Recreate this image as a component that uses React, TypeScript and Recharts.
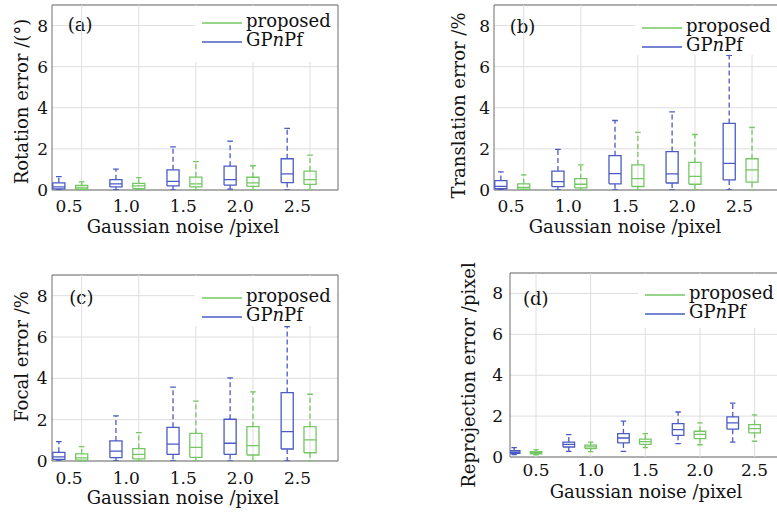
import React from 'react';
import { ComposedChart, Line, XAxis, YAxis, CartesianGrid, ReferenceArea, Legend } from 'recharts';

const noiseLevels = [0.5, 1.0, 1.5, 2.0, 2.5];
const noiseLabels = ['0.5', '1.0', '1.5', '2.0', '2.5'];
const yTicks = [0, 2, 4, 6, 8];
const methodNames = ['proposed', 'GPnPf'];

// one row per noise level: [min, q1, median, q3, max]
const rotationProposed = [
  [0, 0.03, 0.1, 0.22, 0.4],
  [0, 0.07, 0.2, 0.32, 0.6],
  [0, 0.15, 0.3, 0.63, 1.38],
  [0, 0.18, 0.35, 0.62, 1.18],
  [0, 0.27, 0.5, 0.92, 1.7],
];
const rotationGPnPf = [
  [0, 0.05, 0.15, 0.35, 0.65],
  [0.02, 0.15, 0.3, 0.5, 1.02],
  [0, 0.2, 0.42, 0.98, 2.1],
  [0.04, 0.24, 0.5, 1.16, 2.38],
  [0, 0.36, 0.78, 1.52, 3.0],
];
const translationProposed = [
  [0, 0.04, 0.13, 0.3, 0.74],
  [0, 0.1, 0.28, 0.55, 1.22],
  [0, 0.17, 0.55, 1.22, 2.8],
  [0, 0.28, 0.66, 1.34, 2.7],
  [0, 0.38, 0.98, 1.52, 3.04],
];
const translationGPnPf = [
  [0, 0.06, 0.18, 0.46, 0.88],
  [0, 0.16, 0.41, 0.92, 1.98],
  [0, 0.3, 0.8, 1.67, 3.38],
  [0, 0.34, 0.78, 1.87, 3.8],
  [0, 0.49, 1.3, 3.24, 6.55],
];
const focalProposed = [
  [0, 0.04, 0.15, 0.34, 0.7],
  [0, 0.1, 0.32, 0.6, 1.37],
  [0, 0.18, 0.66, 1.34, 2.9],
  [0, 0.29, 0.74, 1.66, 3.34],
  [0, 0.4, 1.02, 1.66, 3.23],
];
const focalGPnPf = [
  [0, 0.08, 0.2, 0.42, 0.94],
  [0, 0.16, 0.48, 0.97, 2.18],
  [0, 0.32, 0.82, 1.63, 3.57],
  [0, 0.32, 0.86, 2.02, 4.02],
  [0, 0.58, 1.42, 3.31, 6.5],
];
const reprojProposed = [
  [0.1, 0.16, 0.21, 0.26, 0.36],
  [0.26, 0.41, 0.5, 0.58, 0.73],
  [0.46, 0.62, 0.75, 0.87, 1.14],
  [0.6, 0.9, 1.11, 1.26, 1.67],
  [0.77, 1.18, 1.39, 1.58, 2.06],
];
const reprojGPnPf = [
  [0.12, 0.18, 0.24, 0.31, 0.46],
  [0.28, 0.49, 0.62, 0.73, 1.09],
  [0.28, 0.69, 0.93, 1.14, 1.75],
  [0.65, 1.06, 1.34, 1.63, 2.2],
  [0.73, 1.36, 1.67, 1.96, 2.64],
];

const FONT = '"DejaVu Serif", serif';
const INK = '#111';
const GRID = '#dedede';
const FRAME = '#6e6e6e';
const BLUE = '#4a5bc4';
const GREEN = '#74c763';
const methodColors = [GREEN, BLUE];
const Y_MAX = 9;
const PLOT_W = 286;
const BOX_HALF = 0.053;
const CAP_HALF = 0.025;

type Pt = { x: number; y: number | null };

// box outline, median and caps as one broken polyline
function boxPath(stats: number[][], shift: number): Pt[] {
  const pts: Pt[] = [];
  stats.forEach(([lo, q1, med, q3, hi], i) => {
    const c = noiseLevels[i] + shift;
    pts.push(
      { x: c - BOX_HALF, y: q1 }, { x: c + BOX_HALF, y: q1 }, { x: c + BOX_HALF, y: q3 },
      { x: c - BOX_HALF, y: q3 }, { x: c - BOX_HALF, y: q1 }, { x: c, y: null },
      { x: c - BOX_HALF, y: med }, { x: c + BOX_HALF, y: med }, { x: c, y: null },
      { x: c - CAP_HALF, y: hi }, { x: c + CAP_HALF, y: hi }, { x: c, y: null },
      { x: c - CAP_HALF, y: lo }, { x: c + CAP_HALF, y: lo }, { x: c, y: null },
    );
  });
  return pts;
}

function whiskerPath(stats: number[][], shift: number): Pt[] {
  const pts: Pt[] = [];
  stats.forEach(([lo, q1, , q3, hi], i) => {
    const c = noiseLevels[i] + shift;
    pts.push(
      { x: c, y: q3 }, { x: c, y: hi }, { x: c, y: null },
      { x: c, y: q1 }, { x: c, y: lo }, { x: c, y: null },
    );
  });
  return pts;
}

function gridPath(shift: number): Pt[] {
  return noiseLevels.flatMap((n) => [
    { x: n + shift, y: 0 }, { x: n + shift, y: Y_MAX }, { x: n + shift, y: null },
  ]);
}

const methodLabel = (name: string) =>
  name === 'GPnPf' ? (<>GP<i>n</i>Pf</>) : name;

function LegendBox({ padTop, padBottom, row }: { padTop: number; padBottom: number; row: number }) {
  return (
    <div style={{ background: '#fff', padding: `${padTop}px 6px ${padBottom}px 7px`, fontFamily: FONT, fontSize: 18, color: INK }}>
      {methodNames.map((name, i) => (
        <div key={name} style={{ position: 'relative', height: row, lineHeight: `${row}px`, paddingLeft: 44, whiteSpace: 'nowrap' }}>
          <svg width={40} height={4} style={{ position: 'absolute', left: 0, top: 10 }}>
            <line x1={0} x2={40} y1={2} y2={2} stroke={methodColors[i]} strokeWidth={1.5} />
          </svg>
          {methodLabel(name)}
        </div>
      ))}
    </div>
  );
}

type PanelProps = {
  left: number; top: number; width: number; height: number;
  axisW: number; padTop: number; axisH: number;
  xDomain: [number, number];
  blueShift: number; greenShift: number;
  proposed: number[][]; gpnpf: number[][];
  tag: string; tagDx: number; tagDy: number;
  yTitle: string; yTitleX: number; yTitleDy: number;
  xTitleDx: number; xTitleBottom: number;
  yTickGap: number; xTickGap: number;
  legendLeft: number; legendTop: number; legendPadTop: number; legendPadBottom: number; legendRow: number;
};

function BoxPanel(p: PanelProps) {
  const xTitle = (props: any) => {
    const vb = props.viewBox;
    return (
      <text x={vb.x + vb.width / 2 + p.xTitleDx} y={vb.y + vb.height - p.xTitleBottom} textAnchor="middle" fontSize={18} fill={INK}>
        Gaussian noise /pixel
      </text>
    );
  };
  const yTitle = (props: any) => {
    const vb = props.viewBox;
    const cx = vb.x + p.yTitleX;
    const cy = vb.y + vb.height / 2 + p.yTitleDy;
    return (
      <text x={cx} y={cy} transform={`rotate(-90 ${cx} ${cy})`} textAnchor="middle" fontSize={18} fill={INK}>
        {p.yTitle}
      </text>
    );
  };
  const tagLabel = (props: any) => {
    const vb = props.viewBox;
    return (
      <text x={vb.x + p.tagDx} y={vb.y + p.tagDy} fontSize={18} fill={INK}>{p.tag}</text>
    );
  };

  return (
    <div style={{ position: 'absolute', left: p.left, top: p.top }}>
      <ComposedChart
        width={p.width}
        height={p.height}
        margin={{ top: p.padTop, right: p.width - p.axisW - PLOT_W, bottom: 0, left: 0 }}
      >
        <CartesianGrid vertical={false} stroke={GRID} />
        <XAxis
          dataKey="x"
          type="number"
          domain={p.xDomain}
          allowDataOverflow
          ticks={noiseLevels}
          interval={0}
          tickFormatter={(_v: number, i: number) => noiseLabels[i]}
          height={p.axisH}
          axisLine={false}
          tickLine={false}
          tickSize={0}
          tickMargin={p.xTickGap}
          tick={{ fill: INK, fontSize: 17 }}
          label={xTitle}
        />
        <YAxis
          type="number"
          domain={[0, Y_MAX]}
          allowDataOverflow
          ticks={yTicks}
          interval={0}
          width={p.axisW}
          axisLine={false}
          tickLine={false}
          tickSize={0}
          tickMargin={p.yTickGap}
          tick={{ fill: INK, fontSize: 17 }}
          label={yTitle}
        />
        <Line data={gridPath(p.greenShift)} dataKey="y" stroke={GRID} strokeWidth={1} dot={false} activeDot={false} isAnimationActive={false} />
        <Line data={whiskerPath(p.gpnpf, p.blueShift)} dataKey="y" stroke={BLUE} strokeWidth={1.3} strokeDasharray="5 3" dot={false} activeDot={false} isAnimationActive={false} />
        <Line data={boxPath(p.gpnpf, p.blueShift)} dataKey="y" stroke={BLUE} strokeWidth={1.3} dot={false} activeDot={false} isAnimationActive={false} />
        <Line data={whiskerPath(p.proposed, p.greenShift)} dataKey="y" stroke={GREEN} strokeWidth={1.3} strokeDasharray="5 3" dot={false} activeDot={false} isAnimationActive={false} />
        <Line data={boxPath(p.proposed, p.greenShift)} dataKey="y" stroke={GREEN} strokeWidth={1.3} dot={false} activeDot={false} isAnimationActive={false} />
        <ReferenceArea
          x1={p.xDomain[0]}
          x2={p.xDomain[1]}
          y1={0}
          y2={Y_MAX}
          fill="none"
          stroke={FRAME}
          strokeWidth={1}
          ifOverflow="visible"
          label={tagLabel}
        />
        <Legend
          layout="vertical"
          align="center"
          verticalAlign="middle"
          wrapperStyle={{ left: p.legendLeft, top: p.legendTop, width: 'auto', height: 'auto' }}
          content={() => <LegendBox padTop={p.legendPadTop} padBottom={p.legendPadBottom} row={p.legendRow} />}
        />
      </ComposedChart>
    </div>
  );
}

export default function App() {
  return (
    <div style={{ position: 'absolute', left: 0, top: 0, width: 777, height: 512, overflow: 'hidden', background: '#fff', fontFamily: FONT }}>
      <BoxPanel
        left={0} top={0} width={390} height={250} axisW={52} padTop={5} axisH={60}
        xDomain={[0.35, 2.855]} blueShift={-0.09} greenShift={0.11}
        proposed={rotationProposed} gpnpf={rotationGPnPf}
        tag="(a)" tagDx={15.7} tagDy={25.7}
        yTitle="Rotation error /(°)" yTitleX={28.3} yTitleDy={4}
        xTitleDx={-12} xTitleBottom={17} yTickGap={4} xTickGap={10}
        legendLeft={195} legendTop={6} legendPadTop={5} legendPadBottom={13} legendRow={19}
      />
      <BoxPanel
        left={390} top={0} width={400} height={250} axisW={104} padTop={5} axisH={60}
        xDomain={[0.35, 2.855]} blueShift={-0.09} greenShift={0.11}
        proposed={translationProposed} gpnpf={translationGPnPf}
        tag="(b)" tagDx={15.7} tagDy={27.7}
        yTitle="Translation error /%" yTitleX={75} yTitleDy={8}
        xTitleDx={-12} xTitleBottom={17} yTickGap={4} xTickGap={10}
        legendLeft={245} legendTop={6} legendPadTop={10} legendPadBottom={1} legendRow={19}
      />
      <BoxPanel
        left={0} top={260} width={390} height={252} axisW={52} padTop={15} axisH={51}
        xDomain={[0.35, 2.855]} blueShift={-0.09} greenShift={0.11}
        proposed={focalProposed} gpnpf={focalGPnPf}
        tag="(c)" tagDx={17.3} tagDy={29.3}
        yTitle="Focal error /%" yTitleX={28.3} yTitleDy={-11.5}
        xTitleDx={-12} xTitleBottom={8} yTickGap={4.5} xTickGap={11}
        legendLeft={195} legendTop={16} legendPadTop={10} legendPadBottom={2} legendRow={19}
      />
      <BoxPanel
        left={390} top={260} width={416} height={252} axisW={120} padTop={13} axisH={55}
        xDomain={[0.262, 2.879]} blueShift={-0.2} greenShift={0}
        proposed={reprojProposed} gpnpf={reprojGPnPf}
        tag="(d)" tagDx={13} tagDy={31.7}
        yTitle="Reprojection error /pixel" yTitleX={85} yTitleDy={10}
        xTitleDx={-7} xTitleBottom={14} yTickGap={7} xTickGap={7}
        legendLeft={248} legendTop={14} legendPadTop={9} legendPadBottom={7} legendRow={19}
      />
    </div>
  );
}
